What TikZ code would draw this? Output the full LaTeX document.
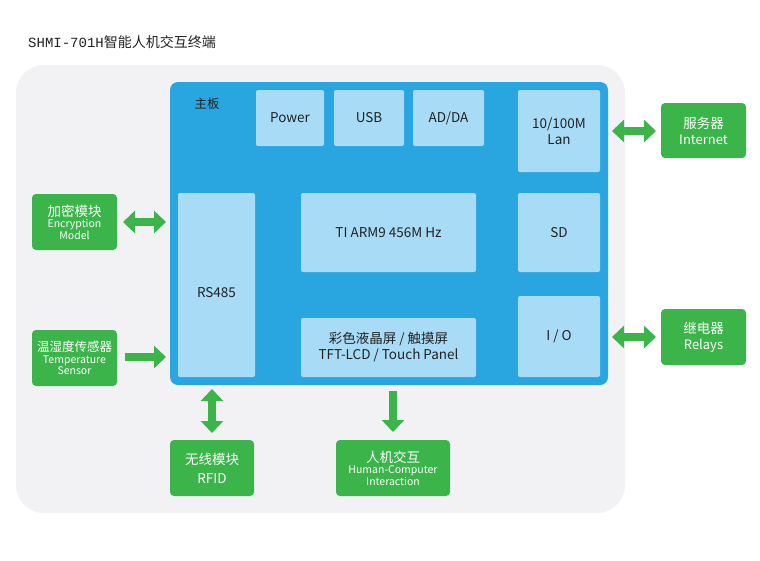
\documentclass[tikz,border=0pt]{standalone}
\usepackage{fontspec}
\setmainfont{Noto Sans CJK SC}
\newfontfamily\titlefont{Liberation Mono}
\usetikzlibrary{arrows.meta}
\definecolor{bg}{HTML}{F2F2F4}
\definecolor{board}{HTML}{29A6E0}
\definecolor{lite}{HTML}{A8DCF6}
\definecolor{grn}{HTML}{3BB54A}
\definecolor{txt}{HTML}{222222}
\tikzset{
 lbox/.style={fill=lite,rounded corners=2pt,text=txt,font=\fontsize{13.5}{16}\selectfont,align=center,inner sep=0pt},
 gbox/.style={fill=grn,rounded corners=4pt,text=white,align=center,inner sep=0pt,font=\fontsize{10.5}{11.5}\selectfont},
 barrow/.style={draw=grn,line width=8pt,-{Triangle[length=12pt,width=22pt]}},
 dbarrow/.style={draw=grn,line width=8pt,{Triangle[length=12pt,width=22pt]}-{Triangle[length=12pt,width=22pt]}}
}
\newcommand{\bx}[6]{\node[#1,minimum width=#4-#2,minimum height=#5-#3] (#6) at ({(#2+#4)/2},{(#3+#5)/2}) }
\newcommand{\zh}[1]{{\fontsize{13.5}{15}\selectfont #1}}
\begin{document}
\begin{tikzpicture}[x=1pt,y=-1pt]
\useasboundingbox (0,0) rectangle (760,560);
\fill[white] (0,0) rectangle (760,560);
\node[anchor=west,font=\fontsize{14}{16}\selectfont,text=txt,inner sep=0pt] (title) at (28,42) {{\titlefont SHMI-701H}智能人机交互终端};
\fill[bg,rounded corners=28pt] (16,65) rectangle (625,513);
\fill[board,rounded corners=8pt] (170,82) rectangle (608,385);
\node[font=\fontsize{12.5}{14}\selectfont,text=txt] (mb) at (207,104) {主板};
\bx{lbox}{256}{90}{324}{146}{pw} {Power};
\bx{lbox}{334}{90}{404}{146}{usb} {USB};
\bx{lbox}{413}{90}{484}{146}{ad} {AD/DA};
\bx{lbox}{518}{90}{600}{172}{lan} {10/100M\\Lan};
\bx{lbox}{178}{193}{255}{377}{rs} {};
\node[text=txt,font=\fontsize{13.5}{16}\selectfont] (rst) at (216.5,293) {RS485};
\bx{lbox}{301}{193}{476}{272}{arm} {TI ARM9 456M Hz};
\bx{lbox}{518}{193}{600}{272}{sd} {SD};
\bx{lbox}{518}{296}{600}{377}{io} {I / O};
\bx{lbox}{301}{318}{476}{377}{lcd} {彩色液晶屏 / 触摸屏\\TFT-LCD / Touch Panel};
\bx{gbox}{32}{194}{117}{250}{enc} {\zh{加密模块}\\Encryption\\Model};
\bx{gbox}{32}{330}{117}{386}{tmp} {{\fontsize{12.5}{14}\selectfont 温湿度传感器}\\Temperature\\Sensor};
\bx{gbox,font=\fontsize{13}{16}\selectfont}{661}{103}{746}{158}{srv} {\zh{服务器}\\Internet};
\bx{gbox,font=\fontsize{13}{16}\selectfont}{661}{309}{746}{365}{rel} {\zh{继电器}\\Relays};
\bx{gbox,font=\fontsize{13.5}{19}\selectfont}{170}{440}{254}{496}{rfid} {无线模块\\RFID};
\bx{gbox}{336}{440}{450}{496}{hci} {\zh{人机交互}\\Human-Computer\\Interaction};
\coordinate (e1) at (123,222); \coordinate (e2) at (166,222);
\coordinate (t1) at (125,357); \coordinate (t2) at (166,357);
\coordinate (s1) at (612,131); \coordinate (s2) at (656,131);
\coordinate (r1) at (612,337); \coordinate (r2) at (656,337);
\coordinate (f1) at (212,389); \coordinate (f2) at (212,433);
\coordinate (h1) at (393,391); \coordinate (h2) at (393,432);
\draw[dbarrow] (e1) -- (e2);
\draw[barrow] (t1) -- (t2);
\draw[dbarrow] (s1) -- (s2);
\draw[dbarrow] (r1) -- (r2);
\draw[dbarrow] (f1) -- (f2);
\draw[barrow] (h1) -- (h2);
\end{tikzpicture}
\end{document}
